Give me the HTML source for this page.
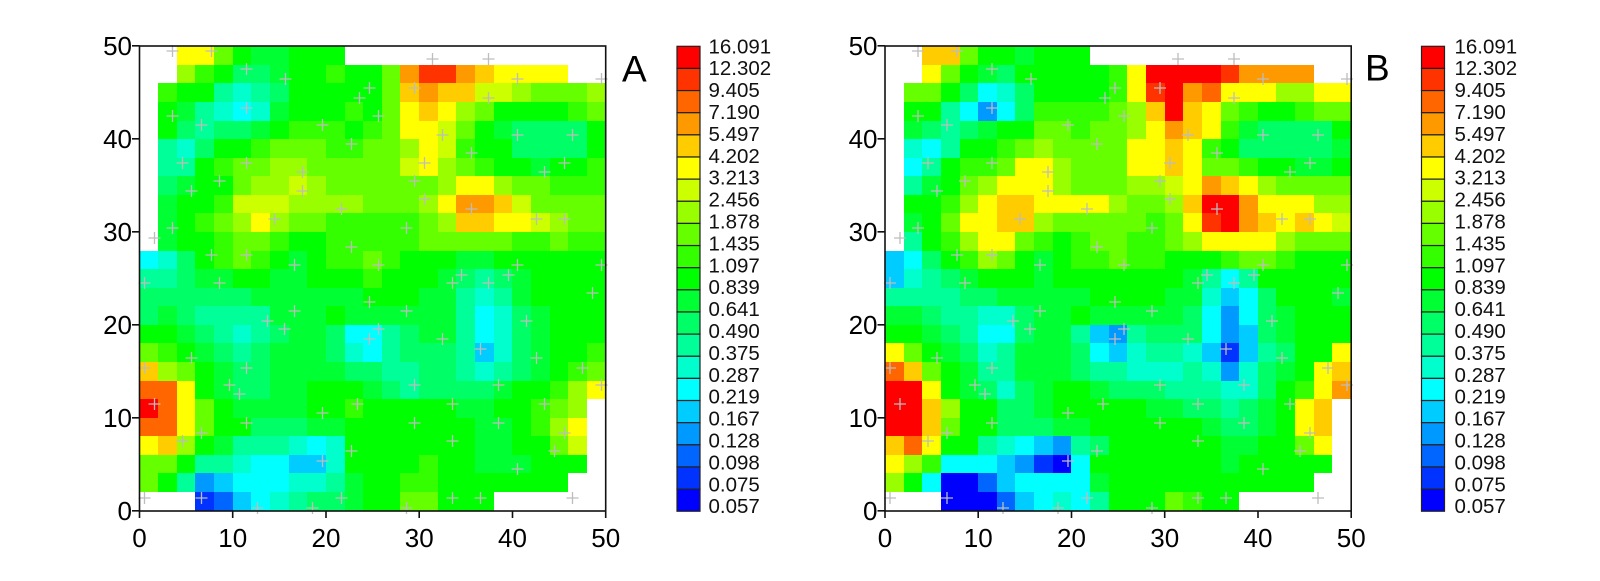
<!DOCTYPE html>
<html><head><meta charset="utf-8"><style>
html,body{margin:0;padding:0;background:#fff}
body{width:1600px;height:581px;position:relative;overflow:hidden;font-family:"Liberation Sans",Arial,sans-serif}
.hm{position:absolute;top:46.2px;display:grid;grid-template-columns:repeat(25,18.648px);grid-template-rows:repeat(25,18.592px)}
.hm i{display:block}
.hm i.a{background:#0000ff}.hm i.b{background:#0033ff}.hm i.c{background:#0066ff}.hm i.d{background:#0099ff}.hm i.e{background:#00ccff}.hm i.f{background:#00ffff}.hm i.g{background:#00ffcc}.hm i.h{background:#00ff99}.hm i.i{background:#00ff66}.hm i.j{background:#00ff33}.hm i.k{background:#00ff00}.hm i.l{background:#33ff00}.hm i.m{background:#66ff00}.hm i.n{background:#99ff00}.hm i.o{background:#ccff00}.hm i.p{background:#ffff00}.hm i.q{background:#ffcc00}.hm i.r{background:#ff9900}.hm i.s{background:#ff6600}.hm i.t{background:#ff3300}.hm i.u{background:#ff0000}
svg{position:absolute;left:0;top:0}
</style></head><body>
<div class="hm" style="left:139.5px">
<i></i><i></i><i class=p></i><i class=p></i><i class=m></i><i class=k></i><i class=j></i><i class=j></i><i class=k></i><i class=k></i><i class=k></i><i></i><i></i><i></i><i></i><i></i><i></i><i></i><i></i><i></i><i></i><i></i><i></i><i></i><i></i>
<i></i><i></i><i class=n></i><i class=l></i><i class=k></i><i class=i></i><i class=i></i><i class=j></i><i class=k></i><i class=k></i><i class=l></i><i class=k></i><i class=k></i><i class=m></i><i class=r></i><i class=t></i><i class=t></i><i class=r></i><i class=q></i><i class=p></i><i class=p></i><i class=p></i><i class=p></i><i></i><i></i>
<i></i><i class=l></i><i class=k></i><i class=k></i><i class=h></i><i class=g></i><i class=h></i><i class=i></i><i class=k></i><i class=k></i><i class=k></i><i class=k></i><i class=k></i><i class=m></i><i class=q></i><i class=r></i><i class=q></i><i class=q></i><i class=o></i><i class=o></i><i class=n></i><i class=m></i><i class=m></i><i class=m></i><i class=n></i>
<i></i><i class=k></i><i class=j></i><i class=h></i><i class=g></i><i class=f></i><i class=g></i><i class=j></i><i class=k></i><i class=k></i><i class=k></i><i class=l></i><i class=k></i><i class=m></i><i class=p></i><i class=q></i><i class=p></i><i class=n></i><i class=m></i><i class=k></i><i class=k></i><i class=k></i><i class=k></i><i class=l></i><i class=m></i>
<i></i><i class=k></i><i class=i></i><i class=h></i><i class=i></i><i class=i></i><i class=j></i><i class=k></i><i class=l></i><i class=l></i><i class=l></i><i class=k></i><i class=l></i><i class=m></i><i class=p></i><i class=p></i><i class=o></i><i class=m></i><i class=k></i><i class=j></i><i class=i></i><i class=i></i><i class=i></i><i class=i></i><i class=k></i>
<i></i><i class=h></i><i class=g></i><i class=i></i><i class=k></i><i class=k></i><i class=l></i><i class=m></i><i class=m></i><i class=m></i><i class=l></i><i class=l></i><i class=m></i><i class=m></i><i class=n></i><i class=p></i><i class=o></i><i class=l></i><i class=k></i><i class=k></i><i class=i></i><i class=i></i><i class=i></i><i class=i></i><i class=k></i>
<i></i><i class=h></i><i class=h></i><i class=k></i><i class=l></i><i class=m></i><i class=m></i><i class=n></i><i class=n></i><i class=m></i><i class=m></i><i class=m></i><i class=m></i><i class=m></i><i class=o></i><i class=p></i><i class=n></i><i class=m></i><i class=l></i><i class=k></i><i class=k></i><i class=j></i><i class=k></i><i class=k></i><i class=l></i>
<i></i><i class=i></i><i class=j></i><i class=k></i><i class=k></i><i class=m></i><i class=n></i><i class=n></i><i class=o></i><i class=n></i><i class=m></i><i class=m></i><i class=m></i><i class=m></i><i class=m></i><i class=m></i><i class=n></i><i class=p></i><i class=p></i><i class=n></i><i class=m></i><i class=m></i><i class=l></i><i class=l></i><i class=l></i>
<i></i><i class=j></i><i class=k></i><i class=k></i><i class=l></i><i class=o></i><i class=o></i><i class=o></i><i class=n></i><i class=n></i><i class=n></i><i class=n></i><i class=m></i><i class=m></i><i class=m></i><i class=n></i><i class=p></i><i class=r></i><i class=r></i><i class=q></i><i class=o></i><i class=m></i><i class=m></i><i class=m></i><i class=m></i>
<i></i><i class=j></i><i class=k></i><i class=l></i><i class=m></i><i class=n></i><i class=p></i><i class=n></i><i class=m></i><i class=m></i><i class=l></i><i class=l></i><i class=l></i><i class=l></i><i class=l></i><i class=m></i><i class=n></i><i class=q></i><i class=q></i><i class=p></i><i class=p></i><i class=o></i><i class=n></i><i class=m></i><i class=m></i>
<i></i><i class=j></i><i class=k></i><i class=k></i><i class=l></i><i class=m></i><i class=m></i><i class=l></i><i class=k></i><i class=k></i><i class=l></i><i class=l></i><i class=l></i><i class=l></i><i class=l></i><i class=m></i><i class=m></i><i class=m></i><i class=m></i><i class=m></i><i class=l></i><i class=l></i><i class=m></i><i class=l></i><i class=l></i>
<i class=f></i><i class=g></i><i class=i></i><i class=k></i><i class=l></i><i class=m></i><i class=l></i><i class=k></i><i class=j></i><i class=k></i><i class=l></i><i class=l></i><i class=m></i><i class=l></i><i class=k></i><i class=k></i><i class=k></i><i class=j></i><i class=j></i><i class=k></i><i class=k></i><i class=k></i><i class=k></i><i class=k></i><i class=k></i>
<i class=h></i><i class=h></i><i class=i></i><i class=j></i><i class=j></i><i class=k></i><i class=k></i><i class=j></i><i class=j></i><i class=k></i><i class=k></i><i class=k></i><i class=l></i><i class=k></i><i class=k></i><i class=k></i><i class=j></i><i class=i></i><i class=h></i><i class=i></i><i class=j></i><i class=k></i><i class=k></i><i class=k></i><i class=k></i>
<i class=i></i><i class=i></i><i class=i></i><i class=i></i><i class=i></i><i class=i></i><i class=j></i><i class=j></i><i class=j></i><i class=j></i><i class=j></i><i class=j></i><i class=k></i><i class=k></i><i class=k></i><i class=j></i><i class=j></i><i class=h></i><i class=g></i><i class=h></i><i class=j></i><i class=k></i><i class=k></i><i class=k></i><i class=k></i>
<i class=i></i><i class=j></i><i class=i></i><i class=h></i><i class=h></i><i class=h></i><i class=h></i><i class=j></i><i class=j></i><i class=j></i><i class=k></i><i class=j></i><i class=j></i><i class=j></i><i class=j></i><i class=j></i><i class=j></i><i class=h></i><i class=f></i><i class=g></i><i class=i></i><i class=j></i><i class=k></i><i class=k></i><i class=k></i>
<i class=k></i><i class=k></i><i class=j></i><i class=i></i><i class=h></i><i class=g></i><i class=h></i><i class=i></i><i class=j></i><i class=j></i><i class=i></i><i class=f></i><i class=f></i><i class=h></i><i class=i></i><i class=j></i><i class=j></i><i class=h></i><i class=f></i><i class=g></i><i class=i></i><i class=j></i><i class=k></i><i class=k></i><i class=k></i>
<i class=m></i><i class=l></i><i class=k></i><i class=j></i><i class=i></i><i class=h></i><i class=i></i><i class=j></i><i class=j></i><i class=j></i><i class=i></i><i class=g></i><i class=f></i><i class=h></i><i class=i></i><i class=i></i><i class=i></i><i class=h></i><i class=e></i><i class=g></i><i class=i></i><i class=j></i><i class=k></i><i class=k></i><i class=l></i>
<i class=q></i><i class=n></i><i class=m></i><i class=k></i><i class=j></i><i class=i></i><i class=i></i><i class=j></i><i class=j></i><i class=j></i><i class=j></i><i class=i></i><i class=i></i><i class=h></i><i class=h></i><i class=i></i><i class=i></i><i class=h></i><i class=g></i><i class=h></i><i class=i></i><i class=j></i><i class=k></i><i class=l></i><i class=m></i>
<i class=s></i><i class=s></i><i class=p></i><i class=k></i><i class=j></i><i class=i></i><i class=i></i><i class=j></i><i class=j></i><i class=k></i><i class=k></i><i class=k></i><i class=j></i><i class=i></i><i class=h></i><i class=i></i><i class=i></i><i class=i></i><i class=i></i><i class=j></i><i class=k></i><i class=k></i><i class=l></i><i class=n></i><i class=p></i>
<i class=u></i><i class=s></i><i class=p></i><i class=m></i><i class=k></i><i class=j></i><i class=j></i><i class=j></i><i class=j></i><i class=k></i><i class=k></i><i class=l></i><i class=k></i><i class=k></i><i class=k></i><i class=k></i><i class=k></i><i class=j></i><i class=j></i><i class=k></i><i class=k></i><i class=l></i><i class=m></i><i class=n></i><i></i>
<i class=s></i><i class=s></i><i class=p></i><i class=m></i><i class=k></i><i class=k></i><i class=i></i><i class=i></i><i class=i></i><i class=j></i><i class=j></i><i class=k></i><i class=k></i><i class=k></i><i class=k></i><i class=k></i><i class=k></i><i class=k></i><i class=j></i><i class=j></i><i class=k></i><i class=l></i><i class=n></i><i class=p></i><i></i>
<i class=p></i><i class=q></i><i class=n></i><i class=k></i><i class=j></i><i class=h></i><i class=h></i><i class=h></i><i class=g></i><i class=f></i><i class=g></i><i class=k></i><i class=k></i><i class=k></i><i class=k></i><i class=k></i><i class=k></i><i class=k></i><i class=j></i><i class=j></i><i class=k></i><i class=k></i><i class=m></i><i class=o></i><i></i>
<i class=m></i><i class=m></i><i class=k></i><i class=h></i><i class=h></i><i class=g></i><i class=f></i><i class=f></i><i class=e></i><i class=e></i><i class=g></i><i class=k></i><i class=k></i><i class=k></i><i class=k></i><i class=l></i><i class=k></i><i class=k></i><i class=j></i><i class=j></i><i class=j></i><i class=k></i><i class=k></i><i class=k></i><i></i>
<i class=m></i><i class=k></i><i class=h></i><i class=d></i><i class=e></i><i class=f></i><i class=f></i><i class=f></i><i class=g></i><i class=g></i><i class=h></i><i class=j></i><i class=k></i><i class=k></i><i class=l></i><i class=l></i><i class=k></i><i class=k></i><i class=k></i><i class=k></i><i class=k></i><i class=k></i><i class=k></i><i></i><i></i>
<i></i><i></i><i></i><i class=b></i><i class=c></i><i class=e></i><i class=f></i><i class=g></i><i class=h></i><i class=i></i><i class=i></i><i class=j></i><i class=k></i><i class=k></i><i class=m></i><i class=m></i><i class=k></i><i class=k></i><i class=k></i><i></i><i></i><i></i><i></i><i></i><i></i>
</div>
<div class="hm" style="left:885px">
<i></i><i></i><i class=q></i><i class=q></i><i class=m></i><i class=k></i><i class=k></i><i class=j></i><i class=k></i><i class=k></i><i class=k></i><i></i><i></i><i></i><i></i><i></i><i></i><i></i><i></i><i></i><i></i><i></i><i></i><i></i><i></i>
<i></i><i></i><i class=p></i><i class=m></i><i class=k></i><i class=j></i><i class=i></i><i class=k></i><i class=k></i><i class=k></i><i class=k></i><i class=k></i><i class=l></i><i class=p></i><i class=u></i><i class=u></i><i class=u></i><i class=u></i><i class=t></i><i class=r></i><i class=r></i><i class=r></i><i class=r></i><i></i><i></i>
<i></i><i class=m></i><i class=m></i><i class=k></i><i class=i></i><i class=f></i><i class=g></i><i class=i></i><i class=k></i><i class=k></i><i class=k></i><i class=k></i><i class=l></i><i class=p></i><i class=t></i><i class=u></i><i class=r></i><i class=s></i><i class=p></i><i class=p></i><i class=p></i><i class=n></i><i class=n></i><i class=p></i><i class=p></i>
<i></i><i class=k></i><i class=k></i><i class=h></i><i class=f></i><i class=d></i><i class=f></i><i class=i></i><i class=l></i><i class=l></i><i class=l></i><i class=l></i><i class=m></i><i class=n></i><i class=q></i><i class=u></i><i class=q></i><i class=p></i><i class=m></i><i class=l></i><i class=k></i><i class=k></i><i class=l></i><i class=m></i><i class=m></i>
<i></i><i class=j></i><i class=i></i><i class=h></i><i class=i></i><i class=j></i><i class=k></i><i class=k></i><i class=m></i><i class=m></i><i class=l></i><i class=m></i><i class=m></i><i class=n></i><i class=p></i><i class=r></i><i class=q></i><i class=p></i><i class=l></i><i class=j></i><i class=i></i><i class=i></i><i class=i></i><i class=i></i><i class=k></i>
<i></i><i class=g></i><i class=f></i><i class=h></i><i class=k></i><i class=k></i><i class=l></i><i class=m></i><i class=n></i><i class=m></i><i class=m></i><i class=m></i><i class=m></i><i class=p></i><i class=p></i><i class=q></i><i class=p></i><i class=l></i><i class=k></i><i class=i></i><i class=i></i><i class=i></i><i class=i></i><i class=i></i><i class=j></i>
<i></i><i class=f></i><i class=h></i><i class=k></i><i class=l></i><i class=l></i><i class=m></i><i class=p></i><i class=p></i><i class=n></i><i class=m></i><i class=m></i><i class=m></i><i class=p></i><i class=p></i><i class=q></i><i class=p></i><i class=m></i><i class=m></i><i class=l></i><i class=k></i><i class=k></i><i class=j></i><i class=j></i><i class=k></i>
<i></i><i class=h></i><i class=j></i><i class=k></i><i class=m></i><i class=n></i><i class=p></i><i class=p></i><i class=p></i><i class=n></i><i class=m></i><i class=m></i><i class=m></i><i class=n></i><i class=n></i><i class=o></i><i class=p></i><i class=r></i><i class=q></i><i class=p></i><i class=n></i><i class=m></i><i class=m></i><i class=m></i><i class=m></i>
<i></i><i class=k></i><i class=k></i><i class=l></i><i class=n></i><i class=p></i><i class=q></i><i class=q></i><i class=p></i><i class=p></i><i class=p></i><i class=p></i><i class=n></i><i class=m></i><i class=m></i><i class=n></i><i class=q></i><i class=u></i><i class=u></i><i class=r></i><i class=p></i><i class=p></i><i class=p></i><i class=n></i><i class=n></i>
<i></i><i class=j></i><i class=k></i><i class=m></i><i class=p></i><i class=p></i><i class=q></i><i class=q></i><i class=n></i><i class=m></i><i class=m></i><i class=m></i><i class=m></i><i class=m></i><i class=l></i><i class=m></i><i class=p></i><i class=t></i><i class=u></i><i class=r></i><i class=q></i><i class=p></i><i class=q></i><i class=p></i><i class=o></i>
<i></i><i class=h></i><i class=k></i><i class=l></i><i class=n></i><i class=p></i><i class=p></i><i class=m></i><i class=l></i><i class=k></i><i class=l></i><i class=m></i><i class=m></i><i class=l></i><i class=l></i><i class=m></i><i class=n></i><i class=p></i><i class=p></i><i class=p></i><i class=p></i><i class=n></i><i class=m></i><i class=m></i><i class=m></i>
<i class=e></i><i class=f></i><i class=i></i><i class=k></i><i class=l></i><i class=n></i><i class=m></i><i class=k></i><i class=j></i><i class=k></i><i class=l></i><i class=l></i><i class=m></i><i class=l></i><i class=l></i><i class=k></i><i class=k></i><i class=k></i><i class=l></i><i class=m></i><i class=m></i><i class=l></i><i class=k></i><i class=k></i><i class=k></i>
<i class=e></i><i class=g></i><i class=h></i><i class=i></i><i class=j></i><i class=k></i><i class=k></i><i class=k></i><i class=j></i><i class=k></i><i class=k></i><i class=k></i><i class=k></i><i class=k></i><i class=k></i><i class=k></i><i class=j></i><i class=h></i><i class=f></i><i class=h></i><i class=k></i><i class=k></i><i class=k></i><i class=k></i><i class=k></i>
<i class=h></i><i class=h></i><i class=h></i><i class=h></i><i class=i></i><i class=i></i><i class=j></i><i class=j></i><i class=j></i><i class=j></i><i class=j></i><i class=k></i><i class=k></i><i class=k></i><i class=k></i><i class=j></i><i class=j></i><i class=g></i><i class=e></i><i class=f></i><i class=i></i><i class=k></i><i class=k></i><i class=k></i><i class=j></i>
<i class=j></i><i class=j></i><i class=i></i><i class=h></i><i class=h></i><i class=g></i><i class=g></i><i class=i></i><i class=j></i><i class=j></i><i class=k></i><i class=j></i><i class=j></i><i class=j></i><i class=j></i><i class=j></i><i class=i></i><i class=f></i><i class=d></i><i class=f></i><i class=i></i><i class=j></i><i class=k></i><i class=k></i><i class=k></i>
<i class=k></i><i class=k></i><i class=j></i><i class=i></i><i class=h></i><i class=f></i><i class=f></i><i class=i></i><i class=j></i><i class=j></i><i class=h></i><i class=e></i><i class=d></i><i class=h></i><i class=i></i><i class=i></i><i class=i></i><i class=f></i><i class=d></i><i class=e></i><i class=i></i><i class=j></i><i class=k></i><i class=k></i><i class=k></i>
<i class=p></i><i class=m></i><i class=k></i><i class=j></i><i class=i></i><i class=g></i><i class=h></i><i class=j></i><i class=j></i><i class=j></i><i class=i></i><i class=f></i><i class=e></i><i class=g></i><i class=h></i><i class=h></i><i class=g></i><i class=e></i><i class=b></i><i class=e></i><i class=h></i><i class=i></i><i class=k></i><i class=k></i><i class=p></i>
<i class=s></i><i class=q></i><i class=m></i><i class=k></i><i class=j></i><i class=h></i><i class=h></i><i class=j></i><i class=j></i><i class=j></i><i class=i></i><i class=h></i><i class=h></i><i class=g></i><i class=g></i><i class=g></i><i class=h></i><i class=g></i><i class=d></i><i class=g></i><i class=i></i><i class=j></i><i class=k></i><i class=p></i><i class=q></i>
<i class=u></i><i class=u></i><i class=p></i><i class=k></i><i class=j></i><i class=i></i><i class=g></i><i class=i></i><i class=j></i><i class=k></i><i class=k></i><i class=j></i><i class=i></i><i class=i></i><i class=i></i><i class=h></i><i class=h></i><i class=h></i><i class=g></i><i class=g></i><i class=i></i><i class=k></i><i class=l></i><i class=p></i><i class=r></i>
<i class=u></i><i class=u></i><i class=q></i><i class=n></i><i class=k></i><i class=k></i><i class=i></i><i class=i></i><i class=j></i><i class=k></i><i class=k></i><i class=k></i><i class=k></i><i class=k></i><i class=j></i><i class=j></i><i class=i></i><i class=i></i><i class=h></i><i class=i></i><i class=j></i><i class=k></i><i class=p></i><i class=q></i><i></i>
<i class=u></i><i class=u></i><i class=q></i><i class=m></i><i class=k></i><i class=k></i><i class=i></i><i class=i></i><i class=i></i><i class=j></i><i class=j></i><i class=k></i><i class=k></i><i class=k></i><i class=k></i><i class=k></i><i class=k></i><i class=j></i><i class=i></i><i class=i></i><i class=j></i><i class=k></i><i class=p></i><i class=q></i><i></i>
<i class=q></i><i class=s></i><i class=p></i><i class=k></i><i class=k></i><i class=h></i><i class=g></i><i class=f></i><i class=e></i><i class=d></i><i class=h></i><i class=i></i><i class=k></i><i class=k></i><i class=k></i><i class=k></i><i class=k></i><i class=k></i><i class=j></i><i class=j></i><i class=k></i><i class=k></i><i class=m></i><i class=p></i><i></i>
<i class=p></i><i class=n></i><i class=l></i><i class=f></i><i class=f></i><i class=f></i><i class=e></i><i class=d></i><i class=b></i><i class=a></i><i class=f></i><i class=k></i><i class=k></i><i class=k></i><i class=k></i><i class=k></i><i class=k></i><i class=k></i><i class=j></i><i class=k></i><i class=k></i><i class=k></i><i class=k></i><i class=k></i><i></i>
<i class=n></i><i class=k></i><i class=f></i><i class=a></i><i class=a></i><i class=c></i><i class=e></i><i class=f></i><i class=f></i><i class=f></i><i class=f></i><i class=j></i><i class=k></i><i class=k></i><i class=k></i><i class=k></i><i class=k></i><i class=k></i><i class=k></i><i class=k></i><i class=k></i><i class=k></i><i class=k></i><i></i><i></i>
<i></i><i></i><i></i><i class=a></i><i class=a></i><i class=a></i><i class=c></i><i class=e></i><i class=f></i><i class=g></i><i class=f></i><i class=h></i><i class=k></i><i class=k></i><i class=k></i><i class=m></i><i class=l></i><i class=k></i><i class=k></i><i></i><i></i><i></i><i></i><i></i><i></i>
</div>
<svg width="1600" height="581" viewBox="0 0 1600 581" xmlns="http://www.w3.org/2000/svg">
<g>
<path transform="translate(139.5,46)" fill="none" stroke="#bdbdbd" stroke-width="1.3" d="M27 5h12m-6-6v12M66 5h12m-6-6v12M287 13h12m-6-6v12M343 13h12m-6-6v12M101 23h12m-6-6v12M140 33h12m-6-6v12M372 33h12m-6-6v12M456 33h12m-6-6v12M224 42h12m-6-6v12M269 42h12m-6-6v12M214 52h12m-6-6v12M343 52h12m-6-6v12M101 62h12m-6-6v12M27 70h12m-6-6v12M233 70h12m-6-6v12M56 79h12m-6-6v12M177 79h12m-6-6v12M297 89h12m-6-6v12M372 89h12m-6-6v12M427 89h12m-6-6v12M206 98h12m-6-6v12M326 107h12m-6-6v12M37 117h12m-6-6v12M101 117h12m-6-6v12M279 117h12m-6-6v12M419 117h12m-6-6v12M157 126h12m-6-6v12M399 126h12m-6-6v12M74 135h12m-6-6v12M269 135h12m-6-6v12M46 145h12m-6-6v12M157 145h12m-6-6v12M279 153h12m-6-6v12M196 163h12m-6-6v12M326 163h12m-6-6v12M129 173h12m-6-6v12M391 173h12m-6-6v12M419 173h12m-6-6v12M27 182h12m-6-6v12M261 182h12m-6-6v12M9 192h12m-6-6v12M206 201h12m-6-6v12M66 209h12m-6-6v12M101 209h12m-6-6v12M233 219h12m-6-6v12M149 219h12m-6-6v12M372 219h12m-6-6v12M456 219h12m-6-6v12M316 229h12m-6-6v12M363 229h12m-6-6v12M-1 237h12m-6-6v12M74 237h12m-6-6v12M307 237h12m-6-6v12M343 237h12m-6-6v12M447 247h12m-6-6v12M224 256h12m-6-6v12M149 265h12m-6-6v12M261 265h12m-6-6v12M122 275h12m-6-6v12M381 275h12m-6-6v12M139 283h12m-6-6v12M233 283h12m-6-6v12M224 293h12m-6-6v12M297 293h12m-6-6v12M335 303h12m-6-6v12M46 312h12m-6-6v12M391 312h12m-6-6v12M-1 322h12m-6-6v12M101 322h12m-6-6v12M437 322h12m-6-6v12M84 339h12m-6-6v12M269 339h12m-6-6v12M353 339h12m-6-6v12M456 339h12m-6-6v12M94 348h12m-6-6v12M9 358h12m-6-6v12M212 358h12m-6-6v12M307 358h12m-6-6v12M399 358h12m-6-6v12M177 367h12m-6-6v12M101 377h12m-6-6v12M269 377h12m-6-6v12M353 377h12m-6-6v12M56 387h12m-6-6v12M419 387h12m-6-6v12M37 395h12m-6-6v12M307 395h12m-6-6v12M206 405h12m-6-6v12M409 405h12m-6-6v12M177 415h12m-6-6v12M372 423h12m-6-6v12M-1 452h12m-6-6v12M56 452h12m-6-6v12M196 452h12m-6-6v12M307 452h12m-6-6v12M335 452h12m-6-6v12M427 452h12m-6-6v12M112 462h12m-6-6v12M167 462h12m-6-6v12M261 462h12m-6-6v12"/>
<rect x="139.5" y="46" width="466.2" height="465" fill="none" stroke="#111" stroke-width="1.6"/>
<path fill="none" stroke="#111" stroke-width="1.6" d="M132 45.8h7.5M132 138.8h7.5M132 231.8h7.5M132 324.8h7.5M132 417.8h7.5M132 510.8h7.5M139.5 511v7M232.7 511v7M326 511v7M419.2 511v7M512.5 511v7M605.7 511v7"/>
<g font-family="Liberation Sans, Arial, sans-serif" font-size="26" fill="#000" text-anchor="end">
<text x="132" y="55.1">50</text><text x="132" y="148.1">40</text><text x="132" y="241.1">30</text><text x="132" y="334.1">20</text><text x="132" y="427.1">10</text><text x="132" y="520.1">0</text>
</g>
<g font-family="Liberation Sans, Arial, sans-serif" font-size="26" fill="#000" text-anchor="middle">
<text x="139.5" y="547">0</text><text x="232.7" y="547">10</text><text x="326" y="547">20</text><text x="419.2" y="547">30</text><text x="512.5" y="547">40</text><text x="605.7" y="547">50</text>
</g>
<g stroke="#222" stroke-width="1.2">
<rect x="677" y="46.3" width="23" height="22.14" fill="#ff0000"/><rect x="677" y="68.44" width="23" height="22.14" fill="#ff3300"/><rect x="677" y="90.58" width="23" height="22.14" fill="#ff6600"/><rect x="677" y="112.72" width="23" height="22.14" fill="#ff9900"/><rect x="677" y="134.86" width="23" height="22.14" fill="#ffcc00"/><rect x="677" y="157" width="23" height="22.14" fill="#ffff00"/><rect x="677" y="179.14" width="23" height="22.14" fill="#ccff00"/><rect x="677" y="201.28" width="23" height="22.14" fill="#99ff00"/><rect x="677" y="223.42" width="23" height="22.14" fill="#66ff00"/><rect x="677" y="245.56" width="23" height="22.14" fill="#33ff00"/><rect x="677" y="267.7" width="23" height="22.14" fill="#00ff00"/><rect x="677" y="289.84" width="23" height="22.14" fill="#00ff33"/><rect x="677" y="311.98" width="23" height="22.14" fill="#00ff66"/><rect x="677" y="334.12" width="23" height="22.14" fill="#00ff99"/><rect x="677" y="356.26" width="23" height="22.14" fill="#00ffcc"/><rect x="677" y="378.4" width="23" height="22.14" fill="#00ffff"/><rect x="677" y="400.54" width="23" height="22.14" fill="#00ccff"/><rect x="677" y="422.68" width="23" height="22.14" fill="#0099ff"/><rect x="677" y="444.82" width="23" height="22.14" fill="#0066ff"/><rect x="677" y="466.96" width="23" height="22.14" fill="#0033ff"/><rect x="677" y="489.1" width="23" height="22.14" fill="#0000ff"/>
</g>
<g font-family="Liberation Sans, Arial, sans-serif" font-size="20.5" fill="#111">
<text x="708.5" y="53.3">16.091</text><text x="708.5" y="75.2">12.302</text><text x="708.5" y="97.1">9.405</text><text x="708.5" y="119">7.190</text><text x="708.5" y="140.9">5.497</text><text x="708.5" y="162.8">4.202</text><text x="708.5" y="184.7">3.213</text><text x="708.5" y="206.6">2.456</text><text x="708.5" y="228.5">1.878</text><text x="708.5" y="250.4">1.435</text><text x="708.5" y="272.3">1.097</text><text x="708.5" y="294.2">0.839</text><text x="708.5" y="316.1">0.641</text><text x="708.5" y="338">0.490</text><text x="708.5" y="359.9">0.375</text><text x="708.5" y="381.8">0.287</text><text x="708.5" y="403.7">0.219</text><text x="708.5" y="425.6">0.167</text><text x="708.5" y="447.5">0.128</text><text x="708.5" y="469.4">0.098</text><text x="708.5" y="491.3">0.075</text><text x="708.5" y="513.2">0.057</text>
</g>
</g>
<text x="622" y="81.5" font-family="Liberation Sans, Arial, sans-serif" font-size="37" fill="#000">A</text>

<g transform="translate(745.5,0)">
<path transform="translate(139.5,46)" fill="none" stroke="#bdbdbd" stroke-width="1.3" d="M27 5h12m-6-6v12M66 5h12m-6-6v12M287 13h12m-6-6v12M343 13h12m-6-6v12M101 23h12m-6-6v12M140 33h12m-6-6v12M372 33h12m-6-6v12M456 33h12m-6-6v12M224 42h12m-6-6v12M269 42h12m-6-6v12M214 52h12m-6-6v12M343 52h12m-6-6v12M101 62h12m-6-6v12M27 70h12m-6-6v12M233 70h12m-6-6v12M56 79h12m-6-6v12M177 79h12m-6-6v12M297 89h12m-6-6v12M372 89h12m-6-6v12M427 89h12m-6-6v12M206 98h12m-6-6v12M326 107h12m-6-6v12M37 117h12m-6-6v12M101 117h12m-6-6v12M279 117h12m-6-6v12M419 117h12m-6-6v12M157 126h12m-6-6v12M399 126h12m-6-6v12M74 135h12m-6-6v12M269 135h12m-6-6v12M46 145h12m-6-6v12M157 145h12m-6-6v12M279 153h12m-6-6v12M196 163h12m-6-6v12M326 163h12m-6-6v12M129 173h12m-6-6v12M391 173h12m-6-6v12M419 173h12m-6-6v12M27 182h12m-6-6v12M261 182h12m-6-6v12M9 192h12m-6-6v12M206 201h12m-6-6v12M66 209h12m-6-6v12M101 209h12m-6-6v12M233 219h12m-6-6v12M149 219h12m-6-6v12M372 219h12m-6-6v12M456 219h12m-6-6v12M316 229h12m-6-6v12M363 229h12m-6-6v12M-1 237h12m-6-6v12M74 237h12m-6-6v12M307 237h12m-6-6v12M343 237h12m-6-6v12M447 247h12m-6-6v12M224 256h12m-6-6v12M149 265h12m-6-6v12M261 265h12m-6-6v12M122 275h12m-6-6v12M381 275h12m-6-6v12M139 283h12m-6-6v12M233 283h12m-6-6v12M224 293h12m-6-6v12M297 293h12m-6-6v12M335 303h12m-6-6v12M46 312h12m-6-6v12M391 312h12m-6-6v12M-1 322h12m-6-6v12M101 322h12m-6-6v12M437 322h12m-6-6v12M84 339h12m-6-6v12M269 339h12m-6-6v12M353 339h12m-6-6v12M456 339h12m-6-6v12M94 348h12m-6-6v12M9 358h12m-6-6v12M212 358h12m-6-6v12M307 358h12m-6-6v12M399 358h12m-6-6v12M177 367h12m-6-6v12M101 377h12m-6-6v12M269 377h12m-6-6v12M353 377h12m-6-6v12M56 387h12m-6-6v12M419 387h12m-6-6v12M37 395h12m-6-6v12M307 395h12m-6-6v12M206 405h12m-6-6v12M409 405h12m-6-6v12M177 415h12m-6-6v12M372 423h12m-6-6v12M-1 452h12m-6-6v12M56 452h12m-6-6v12M196 452h12m-6-6v12M307 452h12m-6-6v12M335 452h12m-6-6v12M427 452h12m-6-6v12M112 462h12m-6-6v12M167 462h12m-6-6v12M261 462h12m-6-6v12"/>
<rect x="139.5" y="46" width="466.2" height="465" fill="none" stroke="#111" stroke-width="1.6"/>
<path fill="none" stroke="#111" stroke-width="1.6" d="M132 45.8h7.5M132 138.8h7.5M132 231.8h7.5M132 324.8h7.5M132 417.8h7.5M132 510.8h7.5M139.5 511v7M232.7 511v7M326 511v7M419.2 511v7M512.5 511v7M605.7 511v7"/>
<g font-family="Liberation Sans, Arial, sans-serif" font-size="26" fill="#000" text-anchor="end">
<text x="132" y="55.1">50</text><text x="132" y="148.1">40</text><text x="132" y="241.1">30</text><text x="132" y="334.1">20</text><text x="132" y="427.1">10</text><text x="132" y="520.1">0</text>
</g>
<g font-family="Liberation Sans, Arial, sans-serif" font-size="26" fill="#000" text-anchor="middle">
<text x="139.5" y="547">0</text><text x="232.7" y="547">10</text><text x="326" y="547">20</text><text x="419.2" y="547">30</text><text x="512.5" y="547">40</text><text x="605.7" y="547">50</text>
</g>
<g stroke="#222" stroke-width="1.2">
<rect x="676" y="46.3" width="23" height="22.14" fill="#ff0000"/><rect x="676" y="68.44" width="23" height="22.14" fill="#ff3300"/><rect x="676" y="90.58" width="23" height="22.14" fill="#ff6600"/><rect x="676" y="112.72" width="23" height="22.14" fill="#ff9900"/><rect x="676" y="134.86" width="23" height="22.14" fill="#ffcc00"/><rect x="676" y="157" width="23" height="22.14" fill="#ffff00"/><rect x="676" y="179.14" width="23" height="22.14" fill="#ccff00"/><rect x="676" y="201.28" width="23" height="22.14" fill="#99ff00"/><rect x="676" y="223.42" width="23" height="22.14" fill="#66ff00"/><rect x="676" y="245.56" width="23" height="22.14" fill="#33ff00"/><rect x="676" y="267.7" width="23" height="22.14" fill="#00ff00"/><rect x="676" y="289.84" width="23" height="22.14" fill="#00ff33"/><rect x="676" y="311.98" width="23" height="22.14" fill="#00ff66"/><rect x="676" y="334.12" width="23" height="22.14" fill="#00ff99"/><rect x="676" y="356.26" width="23" height="22.14" fill="#00ffcc"/><rect x="676" y="378.4" width="23" height="22.14" fill="#00ffff"/><rect x="676" y="400.54" width="23" height="22.14" fill="#00ccff"/><rect x="676" y="422.68" width="23" height="22.14" fill="#0099ff"/><rect x="676" y="444.82" width="23" height="22.14" fill="#0066ff"/><rect x="676" y="466.96" width="23" height="22.14" fill="#0033ff"/><rect x="676" y="489.1" width="23" height="22.14" fill="#0000ff"/>
</g>
<g font-family="Liberation Sans, Arial, sans-serif" font-size="20.5" fill="#111">
<text x="709" y="53.3">16.091</text><text x="709" y="75.2">12.302</text><text x="709" y="97.1">9.405</text><text x="709" y="119">7.190</text><text x="709" y="140.9">5.497</text><text x="709" y="162.8">4.202</text><text x="709" y="184.7">3.213</text><text x="709" y="206.6">2.456</text><text x="709" y="228.5">1.878</text><text x="709" y="250.4">1.435</text><text x="709" y="272.3">1.097</text><text x="709" y="294.2">0.839</text><text x="709" y="316.1">0.641</text><text x="709" y="338">0.490</text><text x="709" y="359.9">0.375</text><text x="709" y="381.8">0.287</text><text x="709" y="403.7">0.219</text><text x="709" y="425.6">0.167</text><text x="709" y="447.5">0.128</text><text x="709" y="469.4">0.098</text><text x="709" y="491.3">0.075</text><text x="709" y="513.2">0.057</text>
</g>
</g>
<text x="1365" y="80.5" font-family="Liberation Sans, Arial, sans-serif" font-size="37" fill="#000">B</text>
</svg>
</body></html>
